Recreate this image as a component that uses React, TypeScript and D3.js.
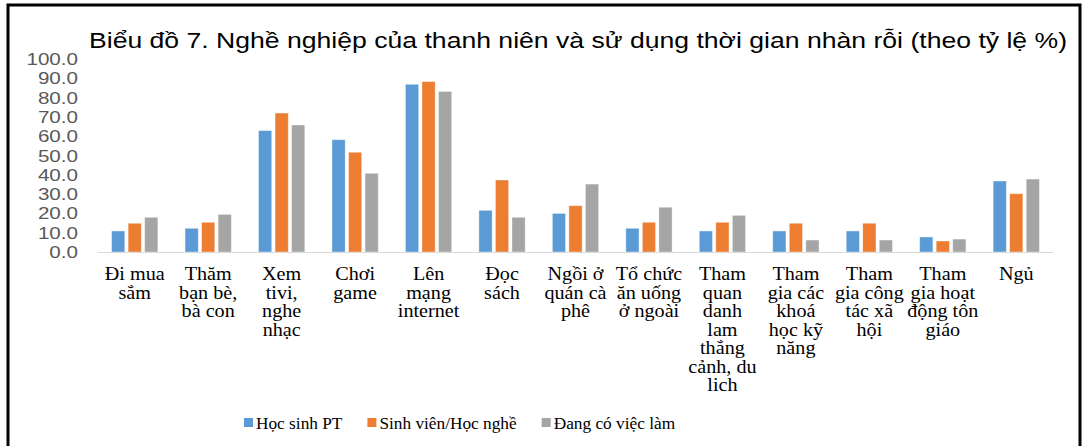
import { useEffect, useRef } from "react";
import * as d3 from "d3";

const title = "Biểu đồ 7. Nghề nghiệp của thanh niên và sử dụng thời gian nhàn rỗi (theo tỷ lệ %)";

const categories = [
  ["Đi mua", "sắm"],
  ["Thăm", "bạn bè,", "bà con"],
  ["Xem", "tivi,", "nghe", "nhạc"],
  ["Chơi", "game"],
  ["Lên", "mạng", "internet"],
  ["Đọc", "sách"],
  ["Ngồi ở", "quán cà", "phê"],
  ["Tổ chức", "ăn uống", "ở ngoài"],
  ["Tham", "quan", "danh", "lam", "thắng", "cảnh, du", "lich"],
  ["Tham", "gia các", "khoá", "học kỹ", "năng"],
  ["Tham", "gia công", "tác xã", "hội"],
  ["Tham", "gia hoạt", "động tôn", "giáo"],
  ["Ngủ"],
];

const seriesNames = ["Học sinh PT", "Sinh viên/Học nghề", "Đang có việc làm"];
const seriesColors = ["#5B9BD5", "#ED7D31", "#A5A5A5"];

const hocSinh = [10.9, 12.3, 62.9, 58.2, 86.9, 21.6, 20.0, 12.3, 10.9, 10.9, 10.9, 7.8, 36.8];
const sinhVien = [14.9, 15.4, 72.0, 51.7, 88.3, 37.3, 24.0, 15.4, 15.4, 14.9, 14.9, 5.7, 30.2];
const coViecLam = [18.0, 19.5, 65.8, 40.8, 83.2, 18.0, 35.2, 23.2, 19.0, 6.2, 6.2, 6.7, 37.8];

const yTicks = [0, 10, 20, 30, 40, 50, 60, 70, 80, 90, 100];

function Chart() {
  const ref = useRef<HTMLDivElement>(null);

  useEffect(() => {
    const width = 1083;
    const height = 446;
    const margin = { left: 98, right: 30, top: 59, bottom: 194 };

    const svg = d3
      .select(ref.current)
      .append("svg")
      .attr("width", width)
      .attr("height", height)
      .style("display", "block")
      .style("background", "#FFFFFF");

    // outer frame (left, top, right)
    svg
      .append("path")
      .attr("d", `M8,${height} L8,5 L1080,5 L1080,${height}`)
      .attr("fill", "none")
      .attr("stroke", "#000")
      .attr("stroke-width", 3);

    const x = d3
      .scaleBand<number>()
      .domain(d3.range(categories.length))
      .range([margin.left, width - margin.right])
      .paddingInner(0.37)
      .paddingOuter(0.185);

    const y = d3.scaleLinear([0, 100], [height - margin.bottom, margin.top]);

    const series = [hocSinh, sinhVien, coViecLam];
    const x1 = d3
      .scaleBand<number>()
      .domain(d3.range(series.length))
      .range([0, x.bandwidth()])
      .paddingInner(0.2);

    // title
    svg
      .append("text")
      .attr("x", 89)
      .attr("y", 48)
      .attr("font-family", "Liberation Sans, Arial, sans-serif")
      .attr("font-size", 22)
      .attr("fill", "#000")
      .attr("textLength", 978)
      .attr("lengthAdjust", "spacingAndGlyphs")
      .text(title);

    // y labels
    yTicks.forEach((t) => {
      svg
        .append("text")
        .attr("transform", `translate(78,${y(t) + 6}) scale(1.25,1)`)
        .attr("text-anchor", "end")
        .attr("font-family", "Liberation Sans, Arial, sans-serif")
        .attr("font-size", 16.5)
        .attr("fill", "#595959")
        .text(t.toFixed(1));
    });

    // bars
    series.forEach((vals, s) => {
      svg
        .append("g")
        .selectAll("rect")
        .data(vals)
        .enter()
        .append("rect")
        .attr("x", (d, i) => (x(i) as number) + (x1(s) as number))
        .attr("y", (d) => y(d))
        .attr("width", x1.bandwidth())
        .attr("height", (d) => y(0) - y(d))
        .attr("fill", seriesColors[s])
        .attr("stroke", "#FFFFFF")
        .attr("stroke-opacity", 0.5)
        .attr("stroke-width", 0.8);
    });

    // baseline
    svg
      .append("line")
      .attr("x1", margin.left)
      .attr("x2", width - margin.right)
      .attr("y1", y(0) + 0.5)
      .attr("y2", y(0) + 0.5)
      .attr("stroke", "#D9D9D9")
      .attr("stroke-width", 1);

    // category labels
    categories.forEach((lines, i) => {
      const cx = (x(i) as number) + x.bandwidth() / 2;
      lines.forEach((line, j) => {
        svg
          .append("text")
          .attr("transform", `translate(${cx},${280 + j * 18.5}) scale(1.12,1)`)
          .attr("text-anchor", "middle")
          .attr("font-family", "Liberation Serif, Times New Roman, serif")
          .attr("font-size", 18)
          .attr("fill", "#000")
          .text(line);
      });
    });

    // legend
    const legend = svg.append("g");
    let lx = 244;
    seriesNames.forEach((name, s) => {
      legend
        .append("rect")
        .attr("x", lx)
        .attr("y", 418)
        .attr("width", 9)
        .attr("height", 9)
        .attr("fill", seriesColors[s]);
      const t = legend
        .append("text")
        .attr("x", lx + 12)
        .attr("y", 429)
        .attr("font-family", "Liberation Serif, Times New Roman, serif")
        .attr("font-size", 17.3)
        .attr("fill", "#000")
        .text(name);
      const w = (t.node() as SVGTextElement).getComputedTextLength();
      lx += 12 + w + 25;
    });

    return () => {
      d3.select(ref.current).select("svg").remove();
    };
  }, []);

  return <div ref={ref}></div>;
}

export default function App() {
  return (
    <div style={{ position: "absolute", left: 0, top: 0 }}>
      <Chart />
    </div>
  );
}
